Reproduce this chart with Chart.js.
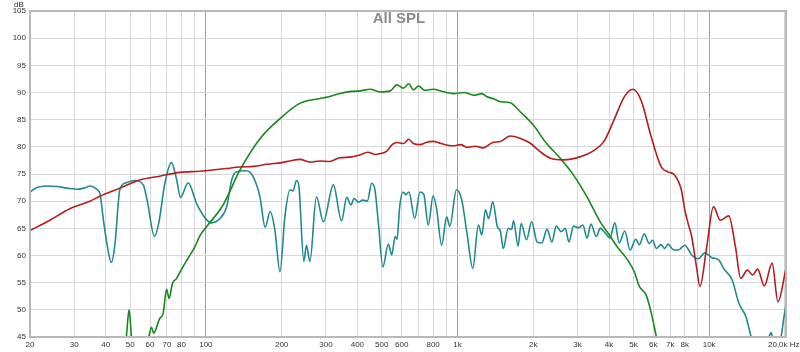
<!DOCTYPE html>
<html lang="en">
<head>
<meta charset="UTF-8">
<title>All SPL</title>
<script src="https://cdn.jsdelivr.net/npm/chart.js@4"></script>
<style>
  html, body { margin: 0; padding: 0; background: #fff; }
  canvas { display: block; }
</style>
</head>
<body>
<canvas id="splChart" width="800" height="352"></canvas>
<script>
// red trace
const redFreq = [20, 24, 28.8, 34.6, 37.9, 45.5, 54.6, 65.5, 78.8, 94.6, 100, 120, 136, 155, 175, 200, 216, 236, 260, 284, 310, 341, 375, 409, 440, 470, 500, 523, 550, 574, 610, 640, 668, 709, 750, 800, 860, 960, 1030, 1090, 1180, 1260, 1380, 1480, 1620, 1770, 1940, 2130, 2340, 2640, 3080, 3480, 3820, 4190, 4600, 4970, 5360, 5880, 6450, 6860, 7290, 7760, 8000, 8250, 8520, 8900, 9190, 9780, 10400, 11070, 11960, 12720, 13340, 14200, 14880, 15580, 16570, 17790, 18760, 20200];
const redDb = [64.6, 66.5, 68.6, 70, 70.9, 72.4, 73.9, 74.6, 75.3, 75.5, 75.6, 76, 76.3, 76.4, 76.8, 77.1, 77.4, 77.7, 77.2, 77.4, 77.3, 78, 78.1, 78.5, 79, 78.6, 78.8, 79.2, 80.4, 80.8, 80.6, 81.4, 80.6, 80.4, 80.8, 81, 80.6, 80.2, 80.4, 79.9, 80.1, 79.8, 80.8, 81, 82, 81.6, 80.7, 79.1, 77.9, 77.6, 78.2, 79.3, 81, 85, 89.2, 90.6, 88.6, 81.9, 76.3, 75.4, 74.8, 72, 68.4, 65.9, 63.5, 58, 54.3, 61.6, 69, 66.5, 67.3, 61.6, 55.8, 57.3, 56.4, 57.5, 54.4, 58.6, 51.5, 57.6];

// green trace
const greenFreq = [46, 48.3, 49.5, 50.6, 52, 56, 59, 60.8, 62, 65.5, 67.6, 69.8, 71.4, 73.7, 76.5, 80.1, 85, 90.4, 94.6, 100.6, 117, 136.5, 164, 197, 236, 284, 300, 341, 380, 409, 450, 492, 540, 574, 610, 640, 668, 700, 740, 800, 870, 965, 1060, 1160, 1250, 1310, 1400, 1480, 1620, 1770, 2000, 2260, 2560, 2890, 3270, 3690, 4050, 4310, 4740, 5040, 5280, 5620, 5890, 6170, 6500];
const greenDb = [38, 45, 50, 45, 38, 40, 44.5, 46.8, 45.7, 48.4, 49.3, 53.8, 52.1, 54.9, 55.8, 57.5, 59.5, 61.6, 63.6, 65.3, 69.3, 75.7, 81.5, 85.2, 88, 88.9, 89.1, 89.8, 90.2, 90.3, 90.6, 90.1, 90.3, 91.4, 90.8, 91.6, 90.5, 91.2, 90.4, 90.6, 90.2, 89.8, 90, 89.5, 89.8, 89.2, 88.8, 88.3, 88.1, 86.5, 84, 80.6, 77.9, 74.8, 70.8, 66.2, 63.5, 61.6, 59.2, 57, 54.3, 52.7, 49.4, 45, 40];

// teal trace
const tealFreq = [20, 21.3, 23.3, 25.6, 28.1, 30.9, 32.8, 34.6, 36.8, 38, 39, 40.5, 42.1, 43.5, 45.5, 48.3, 52.2, 56.4, 58.5, 62.5, 65, 68.7, 73, 76.5, 79.3, 85, 91.8, 99, 105, 113.7, 121, 126.6, 132.5, 145, 154, 164, 172, 180, 188, 197, 206, 216, 222, 229, 234, 245, 251, 259, 275, 293, 321, 346, 363, 377, 388, 404, 420, 438, 456, 470, 485, 505, 531, 548, 565, 575, 589, 607, 623, 641, 676, 709, 735, 765, 800, 825, 865, 905, 932, 990, 1040, 1090, 1150, 1210, 1250, 1290, 1330, 1380, 1440, 1480, 1520, 1590, 1640, 1670, 1740, 1790, 1880, 1970, 2070, 2160, 2270, 2370, 2470, 2580, 2680, 2770, 2890, 3030, 3150, 3270, 3390, 3560, 3690, 3870, 4030, 4220, 4390, 4620, 4850, 5110, 5280, 5520, 5780, 5960, 6170, 6430, 6660, 6860, 7190, 7540, 8000, 8520, 9050, 9630, 10250, 10900, 11420, 12340, 13130, 14010, 14690, 15500, 16500, 17200, 17640, 18000, 18800, 19300, 19800, 20200];
const tealDb = [71.7, 72.5, 72.8, 72.7, 72.4, 72.2, 72.4, 72.8, 72.2, 71.3, 67.1, 62, 58.7, 62, 72.1, 73.4, 73.8, 73, 70, 63.5, 66, 73.3, 77.1, 74, 70.7, 73.4, 69.6, 67, 66, 66.8, 69, 73.9, 75.4, 75.6, 74.5, 70.8, 65.2, 68.1, 64.7, 57, 67.1, 72.1, 71.9, 73.8, 72.9, 58.9, 61.9, 58.9, 70.8, 66.2, 73, 66.4, 70.7, 69.3, 70.5, 69.8, 70.2, 70, 73.3, 72, 65.9, 57.9, 62.1, 60.1, 63.5, 63, 69, 71.7, 71.2, 71.7, 66.8, 71.7, 71.2, 65.6, 71, 68.7, 61.9, 67.1, 65.4, 72.1, 70.2, 64.1, 57.6, 65.6, 63.8, 68.4, 66.8, 69.9, 65.3, 64.5, 61.3, 65, 64.8, 66.4, 61.7, 65.9, 62.9, 66.2, 62.5, 62.3, 64.8, 62.5, 65.4, 64.4, 65, 62.5, 65.4, 65.1, 65.6, 63.2, 65.8, 63.5, 65, 64.1, 63.2, 66, 62.3, 64.5, 61, 63, 62, 64, 62.2, 62.8, 61.3, 62, 61.3, 62.1, 61.1, 61, 61.9, 60.1, 59.4, 60.5, 59.6, 59.2, 57.6, 55.5, 51.2, 48.7, 45, 42, 43, 44.8, 45.8, 44, 43.5, 45, 48.5, 51];

// axis labels
const xLabelFreqs = [20, 30, 40, 50, 60, 70, 80, 100, 200, 300, 400, 500, 600, 800, 1000, 2000, 3000, 4000, 5000, 6000, 7000, 8000, 10000];
const xLabelText = ['20', '30', '40', '50', '60', '70', '80', '100', '200', '300', '400', '500', '600', '800', '1k', '2k', '3k', '4k', '5k', '6k', '7k', '8k', '10k'];
const lastXLabel = '20,0k Hz';
const yUnit = 'dB';
const chartTitle = 'All SPL';

const FONT = '"Liberation Sans", Arial, sans-serif';

function toPoints(freqs, dbs) {
    return freqs.map((f, i) => ({ x: f, y: dbs[i] }));
}

// grid at every 1..9 multiple of each decade
const gridFreqs = [];
[10, 100, 1000, 10000].forEach(d => {
    for (let m = 1; m <= 9; m++) {
        const f = m * d;
        if (f >= 20 && f <= 20000) gridFreqs.push(f);
    }
});

const framePlugin = {
    id: 'frame',
    afterDraw(chart) {
        const { ctx, chartArea: a } = chart;
        ctx.save();
        ctx.strokeStyle = '#b8b8b8';
        ctx.lineWidth = 2;
        ctx.strokeRect(a.left, a.top, a.right - a.left, a.bottom - a.top);

        ctx.fillStyle = '#8a8a8a';
        ctx.font = 'bold 15px ' + FONT;
        ctx.textAlign = 'center';
        ctx.textBaseline = 'middle';
        ctx.fillText(chartTitle, 399, 19);

        ctx.fillStyle = '#333';
        ctx.font = '8px ' + FONT;
        ctx.fillText(yUnit, 19, 5);
        ctx.textAlign = 'left';
        ctx.fillText(lastXLabel, 768, 345);
        ctx.restore();
    }
};

const ctx = document.getElementById('splChart').getContext('2d');
const splChart = new Chart(ctx, {
    type: 'line',
    data: {
        datasets: [
            { label: 'red', data: toPoints(redFreq, redDb), borderColor: '#b41e1e' },
            { label: 'green', data: toPoints(greenFreq, greenDb), borderColor: '#17891a' },
            { label: 'teal', data: toPoints(tealFreq, tealDb), borderColor: '#208a8e' }
        ]
    },
    options: {
        responsive: false,
        animation: false,
        layout: { padding: { top: 11, right: 14, left: 0, bottom: 0 } },
        elements: {
            point: { radius: 0 },
            line: { borderWidth: 1.6, cubicInterpolationMode: 'monotone', fill: false }
        },
        plugins: { legend: { display: false }, tooltip: { enabled: false } },
        scales: {
            x: {
                type: 'logarithmic',
                min: 20,
                max: 20200,
                afterBuildTicks: scale => {
                    scale.ticks = gridFreqs.map(v => ({ value: v }));
                },
                afterFit: scale => { scale.height = 15; },
                ticks: {
                    autoSkip: false,
                    maxRotation: 0,
                    padding: 3,
                    color: '#333',
                    font: { family: FONT, size: 8 },
                    callback: value => {
                        const i = xLabelFreqs.indexOf(value);
                        return i >= 0 ? xLabelText[i] : '';
                    }
                },
                grid: {
                    drawTicks: false,
                    color: c => {
                        const v = c.tick && c.tick.value;
                        return (v === 100 || v === 1000 || v === 10000) ? '#a0a0a0' : '#d8d8d8';
                    }
                },
                border: { display: false }
            },
            y: {
                min: 45,
                max: 105,
                afterFit: scale => { scale.width = 30; },
                ticks: {
                    stepSize: 5,
                    padding: 4,
                    color: '#333',
                    font: { family: FONT, size: 8 }
                },
                grid: { drawTicks: false, color: '#d8d8d8' },
                border: { display: false }
            }
        }
    },
    plugins: [framePlugin]
});
</script>
</body>
</html>
